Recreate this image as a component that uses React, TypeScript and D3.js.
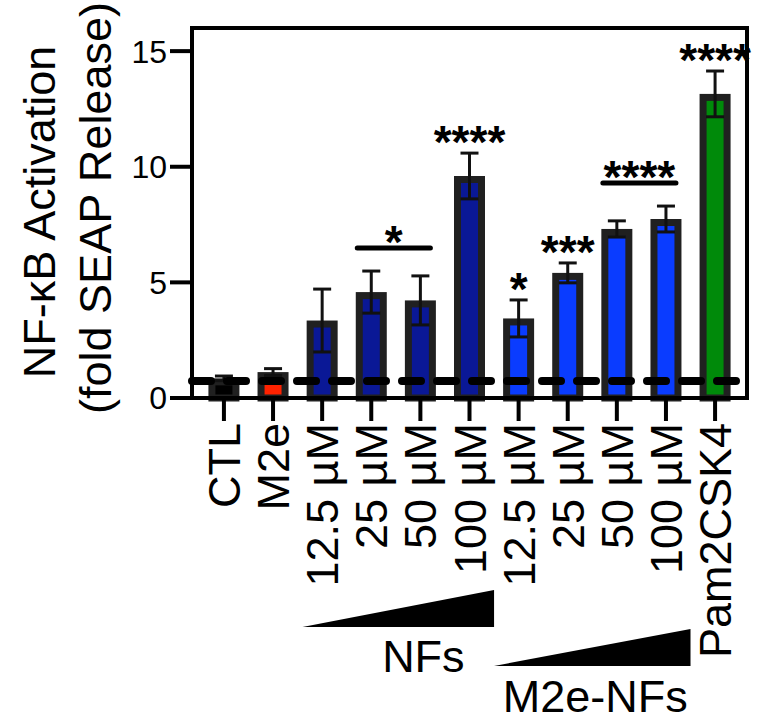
import * as React from 'react';
import * as d3 from 'd3';

// values (fold SEAP release, mean ± SD)
const categoryKeys = ['ctl', 'm2e', 'nf12', 'nf25', 'nf50', 'nf100', 'mnf12', 'mnf25', 'mnf50', 'mnf100', 'pam'];
const categoryLabels = ['CTL', 'M2e', '12.5 µM', '25 µM', '50 µM', '100 µM', '12.5 µM', '25 µM', '50 µM', '100 µM', 'Pam2CSK4'];
const groups = ['ctl', 'm2e', 'nf', 'nf', 'nf', 'nf', 'mnf', 'mnf', 'mnf', 'mnf', 'pam'];
const means = [0.85, 1.12, 3.35, 4.58, 4.22, 9.6, 3.44, 5.41, 7.31, 7.74, 13.15];
const sds = [0.1, 0.15, 1.36, 0.91, 1.06, 0.99, 0.8, 0.43, 0.35, 0.56, 0.99];
const yTicks = [0, 5, 10, 15];
const controlLevel = 0.74;

const singleStars = [
  { key: 'nf100', label: '****' },
  { key: 'mnf12', label: '*' },
  { key: 'mnf25', label: '***' },
  { key: 'pam', label: '****' },
];
const brackets = [
  { from: 'nf25', to: 'nf50', label: '*' },
  { from: 'mnf50', to: 'mnf100', label: '****' },
];
const wedges = [
  { first: 'nf12', last: 'nf100', next: 'mnf12', label: 'NFs', level: 0 },
  { first: 'mnf12', last: 'mnf100', next: 'pam', label: 'M2e-NFs', level: 1 },
];

const colors: Record<string, string> = {
  ctl: '#000000',
  m2e: '#ff2200',
  nf: '#0a1896',
  mnf: '#0a3cff',
  pam: '#008a0a',
};

const FONT = '"Liberation Sans", Arial, Helvetica, sans-serif';

const App: React.FC = () => {
  const width = 768;
  const height = 725;
  const left = 192;
  const right = 747;
  const top = 28;
  const bottom = 398;

  const x = d3.scalePoint<string>().domain(categoryKeys).range([left, right]).padding(0.65);
  const y = d3.scaleLinear().domain([0, 16]).range([bottom, top]);
  const step = x.step();
  const barW = 31;
  const border = 7;
  const cap = 18;
  const labelFs = 45;
  const starFs = 46;
  const starOffset = starFs * 0.58;

  const errTop = (k: string) => {
    const i = categoryKeys.indexOf(k);
    return y(means[i] + sds[i]);
  };
  const at = (k: string, d: number) => x(categoryKeys[categoryKeys.indexOf(k) + d])!;

  return (
    <svg
      width={width}
      height={height}
      style={{ position: 'absolute', left: 0, top: 0, background: '#fff' }}
      fontFamily={FONT}
    >
      {/* bars */}
      {categoryKeys.map((k, i) => {
        const cx = x(k)!;
        const yt = y(means[i]);
        return (
          <rect
            key={k}
            x={cx - barW / 2 + border / 2}
            y={yt + border / 2}
            width={barW - border}
            height={Math.max(0, bottom - yt - border / 2)}
            fill={colors[groups[i]]}
            stroke="#202020"
            strokeWidth={border}
          />
        );
      })}

      {/* error bars */}
      {categoryKeys.map((k, i) => {
        const cx = x(k)!;
        const hi = y(means[i] + sds[i]);
        const lo = y(Math.max(0, means[i] - sds[i]));
        return (
          <g key={'e' + k} stroke="#111" strokeWidth={3}>
            <line x1={cx} x2={cx} y1={hi} y2={lo} />
            <line x1={cx - cap / 2} x2={cx + cap / 2} y1={hi} y2={hi} />
            <line x1={cx - cap / 2} x2={cx + cap / 2} y1={lo} y2={lo} />
          </g>
        );
      })}

      {/* control level */}
      <line
        x1={left}
        x2={right - 4}
        y1={y(controlLevel)}
        y2={y(controlLevel)}
        stroke="#000"
        strokeWidth={8}
        strokeLinecap="round"
        strokeDasharray="19 16"
      />

      {/* frame + axes */}
      <rect x={left} y={top} width={right - left} height={bottom - top} fill="none" stroke="#000" strokeWidth={4} />
      {yTicks.map((t) => (
        <g key={'yt' + t}>
          <line x1={left - 22} x2={left} y1={y(t)} y2={y(t)} stroke="#000" strokeWidth={4} />
          <text x={left - 25} y={y(t) + 11.4} textAnchor="end" fontSize={32} fill="#000">
            {t}
          </text>
        </g>
      ))}
      {categoryKeys.map((k, i) => {
        const cx = x(k)!;
        return (
          <g key={'xt' + k}>
            <line x1={cx} x2={cx} y1={bottom} y2={bottom + 23} stroke="#000" strokeWidth={4} />
            <text
              transform={`translate(${cx + 16},${bottom + 25}) rotate(-90)`}
              textAnchor="end"
              fontSize={labelFs}
              fill="#000"
            >
              {categoryLabels[i]}
            </text>
          </g>
        );
      })}

      {/* y title */}
      <text transform="translate(55,212) rotate(-90)" textAnchor="middle" fontSize={labelFs} fill="#000">
        NF-κB Activation
      </text>
      <text transform="translate(111,208) rotate(-90)" textAnchor="middle" fontSize={labelFs} fill="#000">
        (fold SEAP Release)
      </text>

      {/* significance */}
      {singleStars.map((s) => (
        <text
          key={'s' + s.key}
          x={x(s.key)!}
          y={errTop(s.key) - 22 + starOffset}
          textAnchor="middle"
          fontSize={starFs}
          fontWeight="bold"
          fill="#000"
        >
          {s.label}
        </text>
      ))}
      {brackets.map((b) => {
        const x1 = x(b.from)! - 14;
        const x2 = x(b.to)! + 10;
        const ly = Math.min(errTop(b.from), errTop(b.to)) - 23;
        return (
          <g key={'b' + b.from}>
            <line x1={x1} x2={x2} y1={ly} y2={ly} stroke="#000" strokeWidth={5} strokeLinecap="round" />
            <text
              x={(x1 + x2) / 2}
              y={ly - 17 + starOffset}
              textAnchor="middle"
              fontSize={starFs}
              fontWeight="bold"
              fill="#000"
            >
              {b.label}
            </text>
          </g>
        );
      })}

      {/* dose wedges */}
      {wedges.map((w) => {
        const xs = w.level === 0 ? x(w.first)! - 0.4 * step : (x(w.first)! + at(w.first, -1)) / 2;
        const xe = (x(w.last)! + x(w.next)!) / 2;
        const yb = 627 + w.level * 39;
        const yt = yb - 37;
        const path = d3.path();
        path.moveTo(xs, yb);
        path.lineTo(xe, yb);
        path.lineTo(xe, yt);
        path.closePath();
        const tx = w.level === 0 ? at(w.last, -1) + 3 : (at(w.first, 1) + at(w.first, 2)) / 2 + 3;
        return (
          <g key={'w' + w.label}>
            <path d={path.toString()} fill="#000" />
            <text x={tx} y={w.level === 0 ? 672 : 712} textAnchor="middle" fontSize={labelFs} fill="#000">
              {w.label}
            </text>
          </g>
        );
      })}
    </svg>
  );
};

export default App;
